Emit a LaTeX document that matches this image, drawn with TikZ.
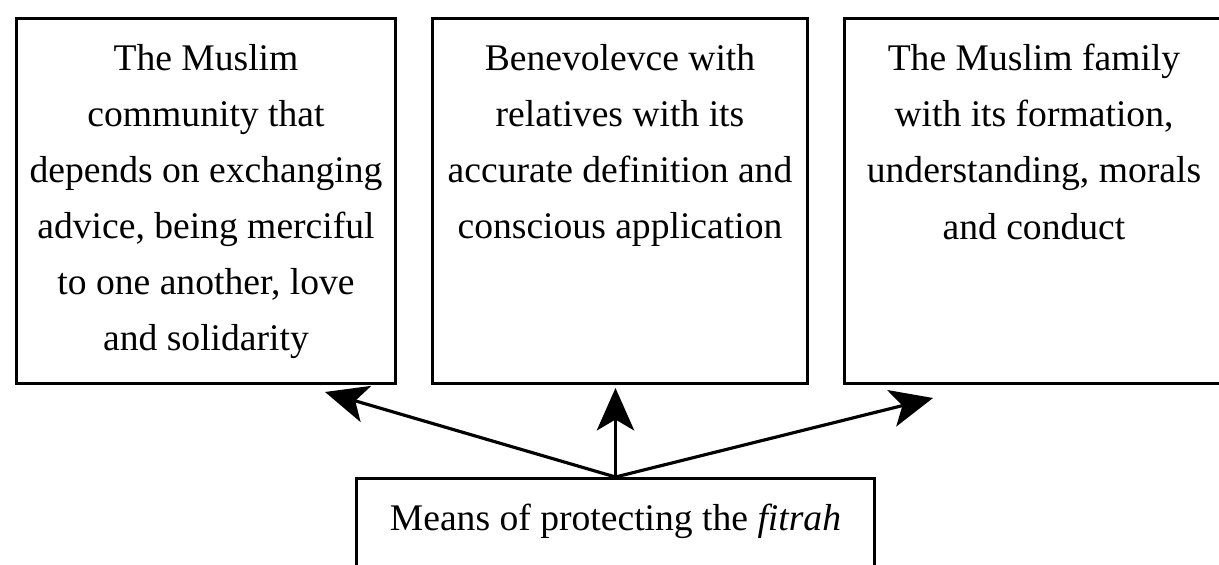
\documentclass[tikz,border=0pt]{standalone}
\usepackage{fontspec}
\setmainfont{Liberation Serif}
\usetikzlibrary{arrows.meta,positioning}

\begin{document}
\begin{tikzpicture}[
          box/.style={rectangle, draw=black, line width=1.7pt, anchor=north west, inner sep=0pt, minimum height=7.30cm},
          boxtext/.style={align=center, inner sep=0pt, anchor=north, font=\fontsize{21.4}{31.9}\selectfont},
          link/.style={-{Stealth[length=0.85cm, width=0.75cm, inset=0.22cm]}, line width=1.8pt}
      ]
          \useasboundingbox (0,0) rectangle (24.38,-11.28);
          % three boxes on top
          \node[box, minimum width=7.58cm] (Community) at (0.30,-0.34) {};
          \node[box, minimum width=7.50cm] (Benevolence) at (8.62,-0.34) {};
          \node[box, minimum width=7.58cm] (Family) at (16.86,-0.34) {};
          \node[boxtext, below=0.54cm of Community.north] (CommunityText) {The Muslim\\community that\\depends on exchanging\\advice, being merciful\\to one another, love\\and solidarity};
          \node[boxtext, below=0.54cm of Benevolence.north] (BenevolenceText) {Benevolevce with\\relatives with its\\accurate definition and\\conscious application};
          \node[boxtext, below=0.54cm of Family.north] (FamilyText) {The Muslim family\\with its formation,\\understanding, morals\\and conduct};
          % bottom box, cut by the page edge
          \node[box, minimum width=10.36cm, minimum height=2.5cm] (Means) at (7.10,-9.54) {};
          \node[boxtext, below=0.54cm of Means.north] (MeansText) {Means of protecting the \textit{fitrah}};
          \coordinate (CommunityTip) at (6.50,-7.84);
          \coordinate (BenevolenceTip) at ([yshift=1.78cm]Means.north);
          \coordinate (FamilyTip) at (18.66,-7.96);
          \draw[link] (Means.north) -- (CommunityTip);
          \draw[link] (Means.north) -- (BenevolenceTip);
          \draw[link] (Means.north) -- (FamilyTip);
      \end{tikzpicture}
\end{document}
